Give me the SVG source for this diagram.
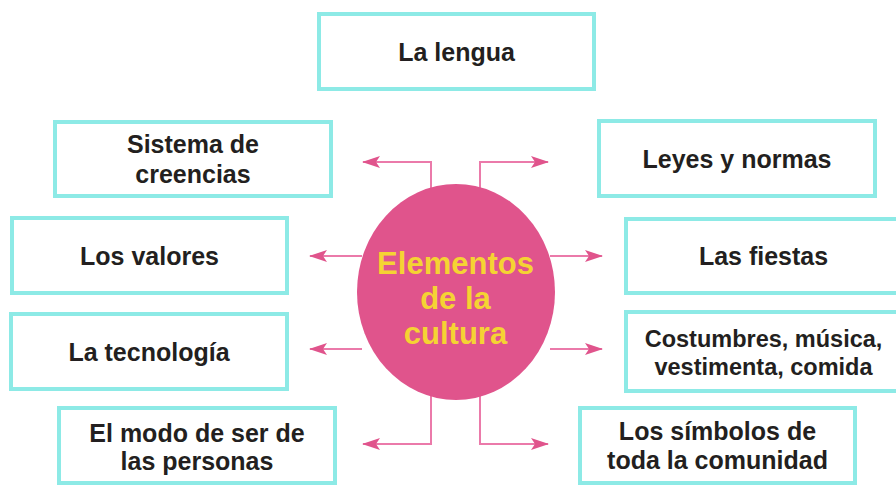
<svg xmlns="http://www.w3.org/2000/svg" width="896" height="487" viewBox="0 0 896 487">
<defs>
<style>
.box{fill:#ffffff;stroke:#8deae6;stroke-width:4}
.lbl{font-family:"Liberation Sans",Arial,sans-serif;font-weight:bold;font-size:25px;fill:#231f20;text-anchor:middle}
.sm{font-size:23.5px}
.ctr{font-family:"Liberation Sans",Arial,sans-serif;font-weight:bold;font-size:31px;fill:#f5d333;text-anchor:middle}
.con{fill:none;stroke:#eb7aaa;stroke-width:2}
</style>
<marker id="ah" viewBox="0 0 18 12" refX="17" refY="6" markerWidth="18" markerHeight="12" markerUnits="userSpaceOnUse" orient="auto">
<path d="M18,6 L0,0 L4,6 L0,12 Z" fill="#e0548c"/>
</marker>
</defs>
<rect width="896" height="487" fill="#ffffff"/>
<g id="connectors">
<path class="con" d="M431,190 V162 H363" marker-end="url(#ah)"/>
<path class="con" d="M480,190 V162 H548" marker-end="url(#ah)"/>
<path class="con" d="M362,256 H310" marker-end="url(#ah)"/>
<path class="con" d="M550,256 H602" marker-end="url(#ah)"/>
<path class="con" d="M362,349 H310" marker-end="url(#ah)"/>
<path class="con" d="M550,349 H602" marker-end="url(#ah)"/>
<path class="con" d="M431,394 V444 H363" marker-end="url(#ah)"/>
<path class="con" d="M480,394 V444 H548" marker-end="url(#ah)"/>
</g>
<g id="center">
<ellipse cx="456" cy="292" rx="99" ry="108" fill="#e0548c"/>
<text class="ctr" x="455.5" y="273.5">Elementos</text>
<text class="ctr" x="455.5" y="308.5">de la</text>
<text class="ctr" x="455.5" y="343.5">cultura</text>
</g>
<g id="la-lengua">
<rect class="box" x="319" y="14" width="275" height="75"/>
<text class="lbl" x="456.5" y="61">La lengua</text>
</g>
<g id="sistema-creencias">
<rect class="box" x="55" y="122" width="276" height="74"/>
<text class="lbl" x="193" y="153">Sistema de</text>
<text class="lbl" x="193" y="183">creencias</text>
</g>
<g id="los-valores">
<rect class="box" x="12" y="218" width="275" height="75"/>
<text class="lbl" x="149.5" y="265">Los valores</text>
</g>
<g id="la-tecnologia">
<rect class="box" x="11" y="314" width="276" height="75"/>
<text class="lbl" x="149" y="361">La tecnología</text>
</g>
<g id="modo-de-ser">
<rect class="box" x="59" y="408" width="276" height="75"/>
<text class="lbl" x="197" y="441.5">El modo de ser de</text>
<text class="lbl" x="197" y="470">las personas</text>
</g>
<g id="leyes-normas">
<rect class="box" x="599" y="121" width="276" height="75"/>
<text class="lbl" x="737" y="168">Leyes y normas</text>
</g>
<g id="las-fiestas">
<rect class="box" x="626" y="219" width="275" height="74"/>
<text class="lbl" x="763.5" y="265">Las fiestas</text>
</g>
<g id="costumbres">
<rect class="box" x="626" y="312" width="275" height="79"/>
<text class="lbl sm" x="763.5" y="346.5">Costumbres, música,</text>
<text class="lbl sm" x="763.5" y="375">vestimenta, comida</text>
</g>
<g id="simbolos">
<rect class="box" x="580" y="408" width="275" height="75"/>
<text class="lbl" x="717.5" y="440">Los símbolos de</text>
<text class="lbl" x="717.5" y="468.5">toda la comunidad</text>
</g>
</svg>
